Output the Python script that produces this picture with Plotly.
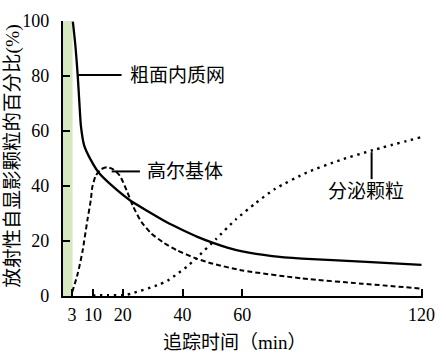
import plotly.graph_objects as go

# Data
rer_t = [3.3, 4.15, 4.9, 5.5, 6.0, 7.1, 9.3, 12.0, 16.4, 22.4, 28.4, 34.9, 40, 45, 50, 55, 60, 70, 80, 100, 120]
rer_v = [99.8, 91, 80.6, 70, 61.8, 54.7, 49.5, 44.8, 40.1, 34.8, 30.8, 26.7, 24.0, 21.5, 19.4, 17.6, 16.2, 14.5, 13.6, 12.5, 11.3]

golgi_t = [3.1, 4.9, 6.5, 8.2, 9.3, 9.8, 10.9, 12.6, 14.7, 16.9, 19.1, 21.3, 23.5, 26.2, 29.5, 33.8, 38.2, 44.7, 50, 60, 80, 100, 120]
golgi_v = [1.5, 8.0, 16.1, 27.8, 34.8, 39.5, 43.6, 46.0, 46.8, 46.0, 43.6, 38.4, 32.5, 27.0, 22.8, 19.3, 16.6, 13.6, 11.8, 9.3, 6.4, 4.5, 2.7]

sec_t = [10, 15, 21, 22.9, 31.6, 35, 38.2, 41.5, 44.7, 51.3, 57.8, 64.4, 70.9, 81.8, 92.7, 103.6, 120]
sec_v = [0.2, 0.3, 0.4, 0.9, 3.9, 5.6, 8.0, 10.7, 13.8, 20.8, 27.8, 33.7, 38.9, 45.0, 49.4, 53.0, 57.8]

x_ticks = [3, 10, 20, 40, 60, 120]
y_ticks = [0, 20, 40, 60, 80, 100]

labels = ["粗面内质网", "高尔基体", "分泌颗粒"]
y_title = "放射性自显影颗粒的百分比(%)"
x_title = "追踪时间（min）"

FONT = "Liberation Serif, Noto Sans CJK SC"

fig = go.Figure()
fig.add_trace(go.Scatter(x=rer_t, y=rer_v, mode="lines", line=dict(color="black", width=2.3, shape="spline", smoothing=0.6), cliponaxis=False))
fig.add_trace(go.Scatter(x=golgi_t, y=golgi_v, mode="lines", line=dict(color="black", width=2, dash="5px,3px", shape="spline", smoothing=0.6), cliponaxis=False))
fig.add_trace(go.Scatter(x=sec_t, y=sec_v, mode="lines", line=dict(color="black", width=2.4, dash="2.4px,4.6px", shape="spline", smoothing=0.6), cliponaxis=False))

# green shaded pulse band (0-3 min)
fig.add_shape(type="rect", x0=0, x1=3.2, y0=0, y1=100, xref="x", yref="y", fillcolor="#d5e8c0", line=dict(width=0), layer="below")

# leader lines
ln = dict(color="black", width=2)
fig.add_shape(type="line", x0=5.14, x1=19.6, y0=80.35, y1=80.35, line=ln)
fig.add_shape(type="line", x0=16.3, x1=25.75, y0=45.3, y1=45.3, line=ln)
fig.add_shape(type="line", x0=103.3, x1=103.3, y0=52.3, y1=42.5, line=ln)

fig.add_annotation(x=21.8, y=80.35, text=labels[0], showarrow=False, xanchor="left", yanchor="middle", font=dict(size=19, family=FONT, color="black"))
fig.add_annotation(x=27.4, y=45.3, text=labels[1], showarrow=False, xanchor="left", yanchor="middle", font=dict(size=19, family=FONT, color="black"))
fig.add_annotation(x=101.5, y=37.9, text=labels[2], showarrow=False, xanchor="center", yanchor="middle", font=dict(size=19, family=FONT, color="black"))

fig.add_annotation(xref="paper", yref="paper", x=-0.1395, y=0.51, text=y_title, textangle=-90, showarrow=False, xanchor="center", yanchor="middle", font=dict(size=19.5, family=FONT, color="black"))
fig.add_annotation(xref="paper", yref="paper", x=0.478, y=-0.168, text=x_title, showarrow=False, xanchor="center", yanchor="middle", font=dict(size=19, family=FONT, color="black"))

fig.update_layout(
    width=446, height=354,
    margin=dict(l=63, r=15, t=11, b=58),
    paper_bgcolor="white", plot_bgcolor="white",
    showlegend=False,
    font=dict(family=FONT, size=18, color="black"),
    xaxis=dict(range=[0, 120.5], tickvals=x_ticks, ticks="inside", ticklen=7, tickwidth=2, tickcolor="black",
               showline=True, linecolor="black", linewidth=2.2, showgrid=False, zeroline=False,
               tickfont=dict(size=18, family=FONT, color="black"), ticklabelstandoff=1),
    yaxis=dict(range=[0, 100], tickvals=y_ticks, ticks="inside", ticklen=7, tickwidth=2, tickcolor="black",
               showline=True, linecolor="black", linewidth=2.2, showgrid=False, zeroline=False,
               tickfont=dict(size=18, family=FONT, color="black"), ticklabelstandoff=8),
)

fig.write_html("out.html")
